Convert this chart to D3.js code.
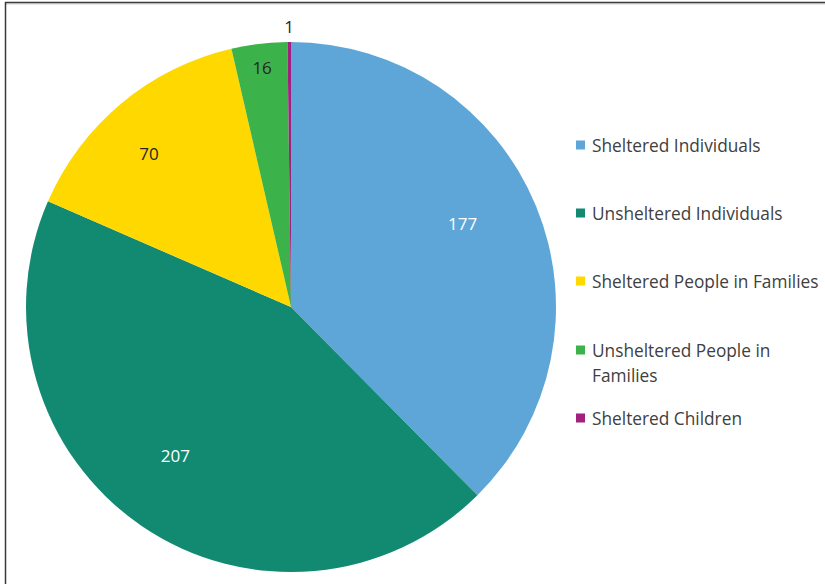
<!DOCTYPE html>
<html>
<head>
<meta charset="utf-8">
<script src="https://cdn.jsdelivr.net/npm/d3@7"></script>
<style>
  html, body { margin: 0; padding: 0; background: #ffffff; }
  svg { display: block; }
  text { font-family: "Open Sans", "Noto Sans", sans-serif; }
</style>
</head>
<body>
<svg id="chart" width="825" height="584"></svg>
<script>
// Point-in-time count by household type
const categories = [
  "Sheltered Individuals",
  "Unsheltered Individuals",
  "Sheltered People in Families",
  "Unsheltered People in Families",
  "Sheltered Children"
];
const values = [177, 207, 70, 16, 1];
const colors = ["#5ea6d8", "#128a71", "#ffd800", "#3cb24b", "#a0217f"];
const labelColors = ["#ffffff", "#ffffff", "#262626", "#262626", "#262626"];
const legendLines = [
  ["Sheltered Individuals"],
  ["Unsheltered Individuals"],
  ["Sheltered People in Families"],
  ["Unsheltered People in", "Families"],
  ["Sheltered Children"]
];

const svg = d3.select("#chart");
const W = 825, H = 584;

// frame of the chart area
svg.append("line")
  .attr("x1", 5).attr("x2", W).attr("y1", 4).attr("y2", 4)
  .attr("stroke", "#e6e6e6").attr("stroke-width", 2);
svg.append("line")
  .attr("x1", 5).attr("x2", W).attr("y1", 2.5).attr("y2", 2.5)
  .attr("stroke", "#3a3a3a").attr("stroke-width", 1.5);
svg.append("line")
  .attr("x1", 5.5).attr("x2", 5.5).attr("y1", 2).attr("y2", H)
  .attr("stroke", "#3a3a3a").attr("stroke-width", 1.5);

// pie
const cx = 291, cy = 307, R = 265;
const data = categories.map((c, i) => ({ name: c, value: values[i], i }));
const pie = d3.pie().value(d => d.value).sort(null);
const arcs = pie(data);
const arc = d3.arc().innerRadius(0).outerRadius(R);

const g = svg.append("g").attr("transform", `translate(${cx},${cy})`);
g.selectAll("path.slice")
  .data(arcs)
  .join("path")
  .attr("class", "slice")
  .attr("d", arc)
  .attr("fill", (d, i) => colors[i]);

// label placement: large slices near the middle, narrow ones pushed out
const labelRadius = [0.72, 0.71, 0.79, 0.91, 1.06];
const labelTurn = [-3.5, 3.5, -3, 0, 0]; // degrees, small nudges off the bisector
g.selectAll("text.val")
  .data(arcs)
  .join("text")
  .attr("class", "val")
  .each(function (d, i) {
    const r = R * labelRadius[i];
    const a = (d.startAngle + d.endAngle) / 2 + labelTurn[i] * Math.PI / 180;
    d3.select(this)
      .attr("x", Math.sin(a) * r)
      .attr("y", -Math.cos(a) * r);
  })
  .attr("text-anchor", "middle")
  .attr("dominant-baseline", "central")
  .attr("font-size", 17)
  .attr("fill", (d, i) => labelColors[i])
  .text(d => d.data.value);

// legend
const legendY = [145, 213, 281, 350, 418];
const lg = svg.append("g");
legendLines.forEach((lines, i) => {
  const y = legendY[i];
  lg.append("rect")
    .attr("x", 576).attr("y", y - 4.5)
    .attr("width", 9).attr("height", 9)
    .attr("fill", colors[i]);
  lines.forEach((t, j) => {
    lg.append("text")
      .attr("x", 592).attr("y", y + j * 25)
      .attr("dominant-baseline", "central")
      .attr("font-size", 17.3)
      .attr("fill", "#404040")
      .text(t);
  });
});
</script>
</body>
</html>
